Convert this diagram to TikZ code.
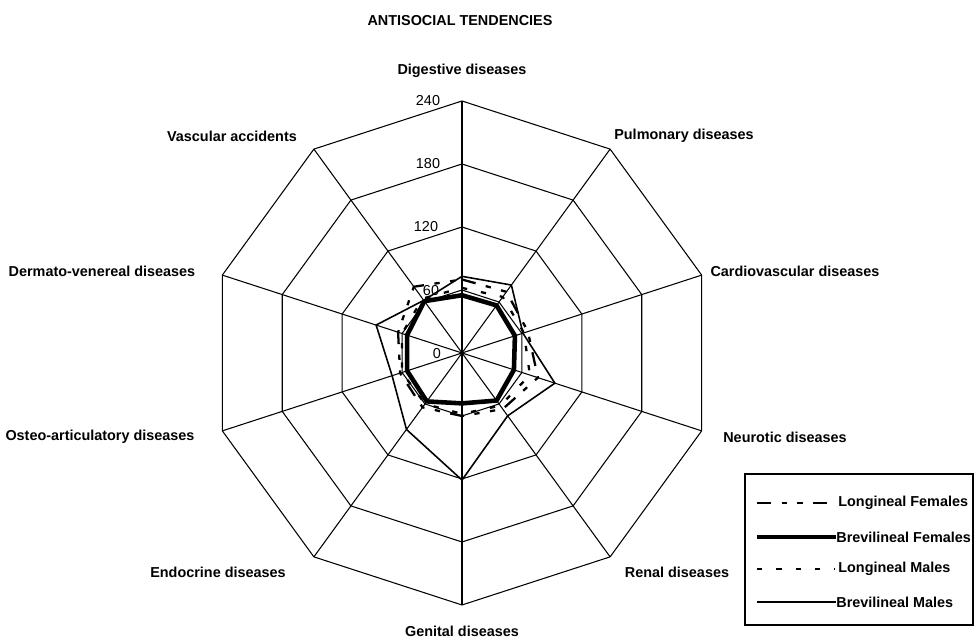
\documentclass[tikz,border=0pt]{standalone}
\usepackage{fontspec}
\setmainfont{Liberation Sans}
\usetikzlibrary{positioning}
\begin{document}
\begin{tikzpicture}[x=0.02cm,y=0.02cm,
    web/.style={line width=0.6pt},
    lbl/.style={font=\fontsize{8.2}{10}\selectfont\bfseries, inner sep=0pt},
    num/.style={font=\fontsize{8.2}{10}\selectfont, inner sep=0pt},
    bf/.style={line width=2.6pt, line join=round},
    bm/.style={line width=0.9pt, line join=round},
    lf/.style={line width=1.3pt, dash pattern=on 8pt off 6pt on 3pt off 6pt on 3pt off 6pt},
    lm/.style={line width=1.3pt, dash pattern=on 3pt off 8pt}]
  \useasboundingbox (0,0) rectangle (975,641);

  % title and axis labels
  \node[lbl] (title) at (460,620) {ANTISOCIAL TENDENCIES};
  \node[lbl] (dig) at (462,570) {Digestive diseases};
  \node[lbl] (pul) at (684,505) {Pulmonary diseases};
  \node[lbl] (car) at (795,370) {Cardiovascular diseases};
  \node[lbl] (neu) at (785,204) {Neurotic diseases};
  \node[lbl] (ren) at (677,69) {Renal diseases};
  \node[lbl] (gen) at (462,10) {Genital diseases};
  \node[lbl] (end) at (218,69) {Endocrine diseases};
  \node[lbl] (ost) at (100,204) {Osteo-articulatory diseases};
  \node[lbl] (der) at (102,370) {Dermato-venereal diseases};
  \node[lbl] (vas) at (232,505) {Vascular accidents};

  \begin{scope}[shift={(462,288)}]
    % web
    \foreach \r in {63,126,189,252}
      \draw[web] (90:\r) \foreach \a in {54,18,...,-234} {-- (\a:\r)} -- cycle;
    \foreach \a in {90,54,...,-234}
      \draw[web] (0,0) -- (\a:252);
    \node[num] (s0) at (-25,-1) {0};
    \node[num] (s60) at (-31,62) {60};
    \node[num] (s120) at (-36,126) {120};
    \node[num] (s180) at (-34,189) {180};
    \node[num] (s240) at (-34,252) {240};

    % series: Dig, Pul, Car, Neu, Ren, Gen, End, Ost, Der, Vas
    \foreach \v [count=\i from 0] in {55,56,53,52,56,48,57,55,55,61}
      \coordinate (bf\i) at ({90-36*\i}:{\v*1.05});
    \foreach \v [count=\i from 0] in {73,80,61,93,74,121,90,70,86,62}
      \coordinate (bm\i) at ({90-36*\i}:{\v*1.05});
    \foreach \v [count=\i from 0] in {70,72,66,76,66,60,64,62,64,78}
      \coordinate (lf\i) at ({90-36*\i}:{\v*1.05});
    \foreach \v [count=\i from 0] in {62,66,62,68,62,58,60,60,60,64}
      \coordinate (lm\i) at ({90-36*\i}:{\v*1.05});
    \draw[bf] (bf0) \foreach \i in {1,...,9} {-- (bf\i)} -- cycle;
    \draw[bm] (bm0) \foreach \i in {1,...,9} {-- (bm\i)} -- cycle;
    \draw[lf] (lf0) \foreach \i in {1,...,9} {-- (lf\i)} -- cycle;
    \draw[lm] (lm0) \foreach \i in {1,...,9} {-- (lm\i)} -- cycle;
  \end{scope}

  % legend
  \draw[line width=0.6pt] (745,16) rectangle (973,167);
  \coordinate (k1) at (757,138);
  \coordinate (k2) at (757,104);
  \coordinate (k3) at (757,72);
  \coordinate (k4) at (757,39);
  \node[lbl, anchor=west] (t1) at (838,138) {Longineal Females};
  \node[lbl, anchor=west] (t2) at (836,104) {Brevilineal Females};
  \node[lbl, anchor=west] (t3) at (838,72) {Longineal Males};
  \node[lbl, anchor=west] (t4) at (836,39) {Brevilineal Males};
  \draw[lf] (k1) -- ([xshift=-2pt]t1.west);
  \draw[bf] (k2) -- (t2.west);
  \draw[lm] (k3) -- ([xshift=-2pt]t3.west);
  \draw[bm] (k4) -- (t4.west);
\end{tikzpicture}
\end{document}
